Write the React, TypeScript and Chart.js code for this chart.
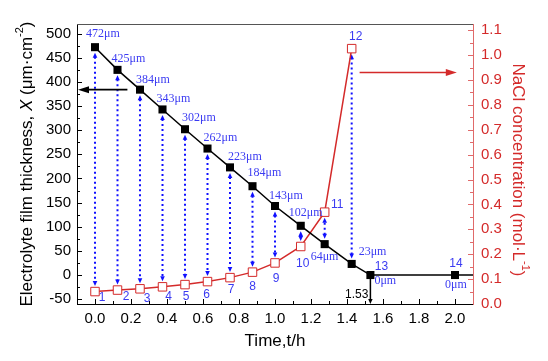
import { useEffect, useRef } from 'react';
import { Chart, registerables } from 'chart.js';

Chart.register(...registerables);

// ---------- data ----------
const TIME_H = [0, 0.125, 0.25, 0.375, 0.5, 0.625, 0.75, 0.875, 1.0, 1.143, 1.276, 1.426, 1.53, 2.0];
const THICKNESS_UM = [472, 425, 384, 343, 302, 262, 223, 184, 143, 102, 64, 23, 0, 0];
// NaCl concentration for points 1..12
const NACL_MOL_L = [0.05, 0.056, 0.061, 0.069, 0.078, 0.09, 0.106, 0.128, 0.165, 0.231, 0.369, 1.026];
const POINT_NUMBERS = ['1', '2', '3', '4', '5', '6', '7', '8', '9', '10', '11', '12', '13', '14'];
const X_TICKS = [0, 0.2, 0.4, 0.6, 0.8, 1.0, 1.2, 1.4, 1.6, 1.8, 2.0];
const Y_LEFT_TICKS = [-50, 0, 50, 100, 150, 200, 250, 300, 350, 400, 450, 500];
const Y_RIGHT_TICKS = [0, 0.1, 0.2, 0.3, 0.4, 0.5, 0.6, 0.7, 0.8, 0.9, 1.0, 1.1];
const X_RANGE = [-0.1, 2.1];
const Y_LEFT_RANGE = [-60, 520];
const Y_RIGHT_RANGE = [0, 1.125];
const BREAKTHROUGH_LABEL = '1.53';
// annotation arrows (data coordinates)
const ARROW_TO_LEFT = { y: 384, xFrom: 0.18, xTo: -0.1 };
const ARROW_TO_RIGHT = { y: 0.93, xFrom: 1.47, xTo: 2.01 };

// ---------- styles / label placement ----------
const BLUE_TEXT = '#3a3af2';
const BLUE_ARROW = '#1010ff';
const RED = '#d42a2a';
const RED_AXIS = '#e06a6a';
const SANS = '"Liberation Sans", Arial, sans-serif';
const SERIF = '"Liberation Serif", "Times New Roman", serif';
// offsets of "xxxμm" labels (left edge dx, middle dy) relative to thickness points
const UM_LABEL_OFFSETS = [
  [-9, -13], [-6, -11], [-4, -10], [-6, -11], [-3, -11], [-4, -11], [-2, -11], [-5, -13],
  [-6, -10], [-12, -13], [-14, 13], [7, -12], [4, 6], [-10, 10],
];
// offsets of number labels (center dx, middle dy); 1..12 from NaCl points, 13..14 from thickness points
const NUM_LABEL_OFFSETS = [
  [7, 6], [8.5, 7], [7, 10], [6, 10], [1, 12], [-1, 13], [1, 12], [0, 15],
  [1, 16], [2, 17], [12.5, -7], [4, -12], [11, -8], [1, -11],
];

function arrowHead(ctx: CanvasRenderingContext2D, x: number, y: number, dx: number, dy: number, len: number, half: number) {
  const n = Math.hypot(dx, dy) || 1;
  const ux = dx / n, uy = dy / n;
  ctx.beginPath();
  ctx.moveTo(x, y);
  ctx.lineTo(x - ux * len - uy * half, y - uy * len + ux * half);
  ctx.lineTo(x - ux * len + uy * half, y - uy * len - ux * half);
  ctx.closePath();
  ctx.fill();
}

type Seg = { text: string; font: string; dy: number };
function drawRich(ctx: CanvasRenderingContext2D, segs: Seg[], cx: number, cy: number, rot: number, color: string) {
  ctx.save();
  ctx.translate(cx, cy);
  ctx.rotate(rot);
  ctx.fillStyle = color;
  ctx.textBaseline = 'middle';
  ctx.textAlign = 'left';
  let total = 0;
  for (const s of segs) { ctx.font = s.font; total += ctx.measureText(s.text).width; }
  let x = -total / 2;
  for (const s of segs) {
    ctx.font = s.font;
    ctx.fillText(s.text, x, s.dy);
    x += ctx.measureText(s.text).width;
  }
  ctx.restore();
}

const overlayPlugin = {
  id: 'overlay',
  beforeDatasetsDraw(chart: any) {
    const { ctx, scales } = chart;
    const xs = scales.x, yl = scales.y, yr = scales.y1;
    const gap = 5.5;
    ctx.save();
    ctx.strokeStyle = BLUE_ARROW;
    ctx.fillStyle = BLUE_ARROW;
    ctx.lineWidth = 2;
    for (let i = 0; i < NACL_MOL_L.length; i++) {
      const x = xs.getPixelForValue(TIME_H[i]);
      const by = yl.getPixelForValue(THICKNESS_UM[i]);
      const ry = yr.getPixelForValue(NACL_MOL_L[i]);
      const dir = ry > by ? 1 : -1;
      const a = by + dir * gap;
      const b = ry - dir * gap;
      ctx.setLineDash([2, 3]);
      ctx.beginPath();
      ctx.moveTo(x, a + dir * 4);
      ctx.lineTo(x, b - dir * 4);
      ctx.stroke();
      ctx.setLineDash([]);
      arrowHead(ctx, x, a, 0, -dir, 5, 2.3);
      arrowHead(ctx, x, b, 0, dir, 5, 2.3);
    }
    ctx.restore();
  },
  afterDraw(chart: any) {
    const { ctx, scales, chartArea } = chart;
    const xs = scales.x, yl = scales.y, yr = scales.y1;
    const { left, right, top, bottom } = chartArea;
    ctx.save();
    // top frame
    ctx.strokeStyle = '#555';
    ctx.lineWidth = 1;
    ctx.beginPath();
    ctx.moveTo(left, top + 0.5);
    ctx.lineTo(right, top + 0.5);
    ctx.stroke();

    // inward major/minor ticks
    const drawTicks = (vals: number[], minorStep: number, color: string, pos: 'left' | 'right' | 'bottom') => {
      ctx.strokeStyle = color;
      ctx.lineWidth = 1;
      const minor: number[] = [];
      for (let k = 0; k < vals.length - 1; k++) minor.push((vals[k] + vals[k + 1]) / 2);
      if (pos !== 'bottom') minor.push(vals[vals.length - 1] + minorStep);
      const all = vals.map((v) => [v, 5]).concat(minor.map((v) => [v, 3]));
      for (const [v, len] of all) {
        ctx.beginPath();
        if (pos === 'bottom') {
          const p = Math.round(xs.getPixelForValue(v)) + 0.5;
          if (p <= left + 1 || p >= right - 1) continue;
          ctx.moveTo(p, bottom);
          ctx.lineTo(p, bottom - len);
        } else {
          const sc = pos === 'left' ? yl : yr;
          const p = Math.round(sc.getPixelForValue(v)) + 0.5;
          if (p <= top + 1 || p >= bottom - 1) continue;
          const x0 = pos === 'left' ? left : right;
          const d = pos === 'left' ? 1 : -1;
          ctx.moveTo(x0, p);
          ctx.lineTo(x0 + d * len, p);
        }
        ctx.stroke();
      }
    };
    drawTicks(X_TICKS, 0.1, '#000', 'bottom');
    drawTicks(Y_LEFT_TICKS, 25, '#000', 'left');
    drawTicks(Y_RIGHT_TICKS, 0.05, RED_AXIS, 'right');

    // annotation arrows
    ctx.lineWidth = 1.6;
    ctx.strokeStyle = '#000';
    ctx.fillStyle = '#000';
    {
      const y = yl.getPixelForValue(ARROW_TO_LEFT.y);
      const x1 = xs.getPixelForValue(ARROW_TO_LEFT.xFrom);
      const x2 = xs.getPixelForValue(ARROW_TO_LEFT.xTo) + 1;
      ctx.beginPath();
      ctx.moveTo(x1, y);
      ctx.lineTo(x2 + 8, y);
      ctx.stroke();
      arrowHead(ctx, x2, y, -1, 0, 11, 3.5);
    }
    ctx.strokeStyle = RED;
    ctx.fillStyle = RED;
    {
      const y = yr.getPixelForValue(ARROW_TO_RIGHT.y);
      const x1 = xs.getPixelForValue(ARROW_TO_RIGHT.xFrom);
      const x2 = xs.getPixelForValue(ARROW_TO_RIGHT.xTo);
      ctx.beginPath();
      ctx.moveTo(x1, y);
      ctx.lineTo(x2 - 8, y);
      ctx.stroke();
      arrowHead(ctx, x2, y, 1, 0, 11, 3.5);
    }

    // breakthrough arrow at point 13
    {
      const i = 12;
      const x = xs.getPixelForValue(TIME_H[i]);
      const y = yl.getPixelForValue(THICKNESS_UM[i]);
      ctx.strokeStyle = '#000';
      ctx.fillStyle = '#000';
      ctx.lineWidth = 1.5;
      ctx.beginPath();
      ctx.moveTo(x, y);
      ctx.lineTo(x, bottom - 3);
      ctx.stroke();
      arrowHead(ctx, x, bottom, 0, 1, 5, 2.2);
      ctx.font = `12px ${SANS}`;
      ctx.textAlign = 'right';
      ctx.textBaseline = 'middle';
      ctx.fillText(BREAKTHROUGH_LABEL, x - 2, bottom - 9);
    }

    // labels
    ctx.textBaseline = 'middle';
    ctx.fillStyle = BLUE_TEXT;
    for (let i = 0; i < THICKNESS_UM.length; i++) {
      const x = xs.getPixelForValue(TIME_H[i]);
      const y = yl.getPixelForValue(THICKNESS_UM[i]);
      const [dx, dy] = UM_LABEL_OFFSETS[i];
      ctx.font = `12px ${SERIF}`;
      ctx.textAlign = 'left';
      ctx.fillText(`${THICKNESS_UM[i]}μm`, x + dx, y + dy);
    }
    for (let i = 0; i < POINT_NUMBERS.length; i++) {
      const x = xs.getPixelForValue(TIME_H[i]);
      const y = i < NACL_MOL_L.length ? yr.getPixelForValue(NACL_MOL_L[i]) : yl.getPixelForValue(THICKNESS_UM[i]);
      const [dx, dy] = NUM_LABEL_OFFSETS[i];
      ctx.font = `12px ${SANS}`;
      ctx.textAlign = 'center';
      ctx.fillText(POINT_NUMBERS[i], x + dx, y + dy);
    }

    // axis titles
    const f = `17px ${SANS}`;
    const fi = `italic 17px ${SANS}`;
    const fs = `11px ${SANS}`;
    const cy = (top + bottom) / 2;
    drawRich(ctx, [
      { text: 'Electrolyte film thickness, ', font: f, dy: 0 },
      { text: 'X', font: fi, dy: 0 },
      { text: ' (μm·cm', font: f, dy: 0 },
      { text: '-2', font: fs, dy: -7 },
      { text: ')', font: f, dy: 0 },
    ], 27, cy, -Math.PI / 2, '#000');
    drawRich(ctx, [
      { text: 'NaCl concentration (mol·L', font: f, dy: 0 },
      { text: '-1', font: fs, dy: -7 },
      { text: ')', font: f, dy: 0 },
    ], 518, cy + 6, Math.PI / 2, RED);
    drawRich(ctx, [{ text: 'Time,t/h', font: f, dy: 0 }], (left + right) / 2, 341, 0, '#000');
    ctx.restore();
  },
};

export default function App() {
  const ref = useRef<HTMLCanvasElement | null>(null);
  useEffect(() => {
    document.body.style.margin = '0';
    const canvas = ref.current;
    if (!canvas) return;
    const blackData = TIME_H.map((t, i) => ({ x: t, y: THICKNESS_UM[i] }));
    blackData.push({ x: X_RANGE[1], y: THICKNESS_UM[THICKNESS_UM.length - 1] });
    const redData = NACL_MOL_L.map((c, i) => ({ x: TIME_H[i], y: c }));
    const chart = new Chart(canvas, {
      type: 'scatter',
      data: {
        datasets: [
          {
            data: blackData,
            yAxisID: 'y',
            showLine: true,
            borderColor: '#000',
            backgroundColor: '#000',
            borderWidth: 1.5,
            pointStyle: 'rect',
            pointRadius: blackData.map((_, i) => (i < TIME_H.length ? 5.7 : 0)),
            pointBorderWidth: 0,
          },
          {
            data: redData,
            yAxisID: 'y1',
            showLine: true,
            borderColor: RED,
            backgroundColor: '#fff',
            borderWidth: 1.5,
            pointStyle: 'rect',
            pointRadius: 6,
            pointBorderWidth: 1,
            pointBorderColor: RED,
          },
        ],
      },
      options: {
        animation: false,
        responsive: false,
        devicePixelRatio: 1,
        layout: { padding: { top: 24, left: 0, right: 0, bottom: 0 } },
        plugins: { legend: { display: false }, tooltip: { enabled: false } },
        events: [],
        scales: {
          x: {
            type: 'linear',
            min: X_RANGE[0],
            max: X_RANGE[1],
            afterBuildTicks: (s: any) => { s.ticks = X_TICKS.map((v) => ({ value: v })); },
            afterFit: (s: any) => { s.height = 57; },
            grid: { display: false, drawTicks: false },
            border: { display: true, color: '#000', width: 1 },
            ticks: {
              padding: 6,
              color: '#000',
              font: { family: SANS, size: 15 },
              callback: (v: any) => Number(v).toFixed(1),
              maxRotation: 0,
              autoSkip: false,
            },
          },
          y: {
            type: 'linear',
            position: 'left',
            min: Y_LEFT_RANGE[0],
            max: Y_LEFT_RANGE[1],
            afterBuildTicks: (s: any) => { s.ticks = Y_LEFT_TICKS.map((v) => ({ value: v })); },
            afterFit: (s: any) => { s.width = 77; },
            grid: { display: false, drawTicks: false },
            border: { display: true, color: '#000', width: 1 },
            ticks: {
              padding: 6,
              color: '#000',
              font: { family: SANS, size: 15 },
              callback: (v: any) => String(v),
              autoSkip: false,
            },
          },
          y1: {
            type: 'linear',
            position: 'right',
            min: Y_RIGHT_RANGE[0],
            max: Y_RIGHT_RANGE[1],
            afterBuildTicks: (s: any) => { s.ticks = Y_RIGHT_TICKS.map((v) => ({ value: v })); },
            afterFit: (s: any) => { s.width = 75; },
            grid: { display: false, drawTicks: false },
            border: { display: true, color: RED_AXIS, width: 1 },
            ticks: {
              padding: 8,
              color: RED,
              font: { family: SANS, size: 15 },
              callback: (v: any) => Number(v).toFixed(1),
              autoSkip: false,
            },
          },
        },
      },
      plugins: [overlayPlugin],
    });
    return () => chart.destroy();
  }, []);
  return (
    <div style={{ position: 'absolute', left: 0, top: 0, width: 548, height: 361, background: '#fff' }}>
      <canvas ref={ref} width={548} height={361} style={{ width: 548, height: 361, display: 'block' }} />
    </div>
  );
}
